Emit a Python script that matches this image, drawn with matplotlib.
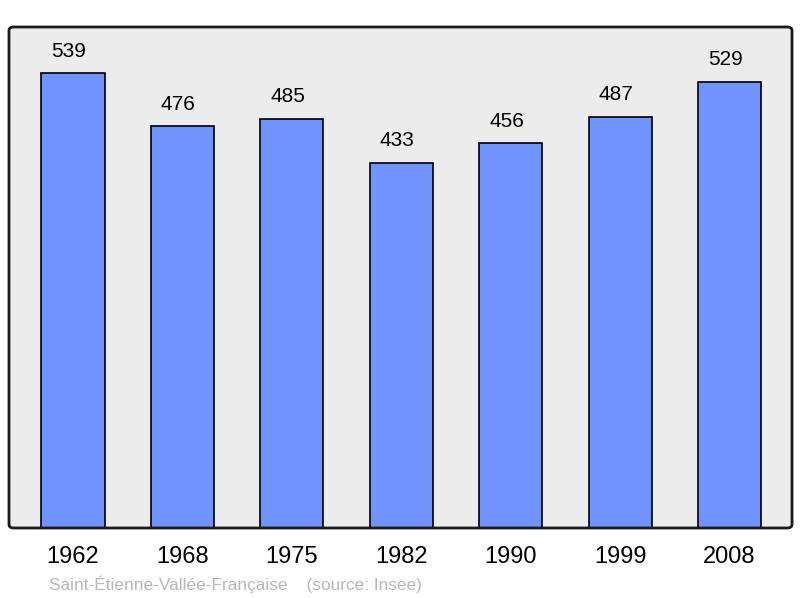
import matplotlib
matplotlib.use("Agg")
import matplotlib.pyplot as plt
from matplotlib.patches import FancyBboxPatch

years = ["1962", "1968", "1975", "1982", "1990", "1999", "2008"]
population = [539, 476, 485, 433, 456, 487, 529]
town = "Saint-Étienne-Vallée-Française"
source = "(source: Insee)"

plt.rcParams['font.family'] = ['Liberation Sans', 'DejaVu Sans']

W, H = 800, 598
fig = plt.figure(figsize=(W / 100, H / 100), dpi=100)
ax = fig.add_axes([9 / W, (H - 528) / H, 783 / W, 501 / H])
ax.set_facecolor('#ececec')

x = list(range(len(years)))
bars = ax.bar(x, population, width=0.576, color='#7093ff', edgecolor='black', linewidth=1.2, zorder=2)
for xi, v in zip(x, population):
    ax.annotate(str(v), (xi, v), xytext=(-3, 9), textcoords='offset points',
                ha='center', va='bottom', fontsize=15)

ax.set_xlim(-0.585, len(years) - 1 + 0.571)
ax.set_ylim(0, 593.6)
ax.set_yticks([])
ax.set_xticks(x)
ax.set_xticklabels(years, fontsize=17)
ax.tick_params(axis='x', length=0, pad=13)
for s in ax.spines.values():
    s.set_visible(False)

frame = FancyBboxPatch((9 / W, (H - 528) / H), 783 / W, 501 / H,
                       boxstyle="round,pad=0,rounding_size=0.006",
                       transform=fig.transFigure, fill=False,
                       edgecolor='#1a1a1a', linewidth=2, zorder=10)
fig.add_artist(frame)

fig.text(49 / W, 1 - 584 / H, town + "    " + source, fontsize=12.4,
         color='#b8b8b8', ha='left', va='center')

fig.savefig("out.png", dpi=100)
